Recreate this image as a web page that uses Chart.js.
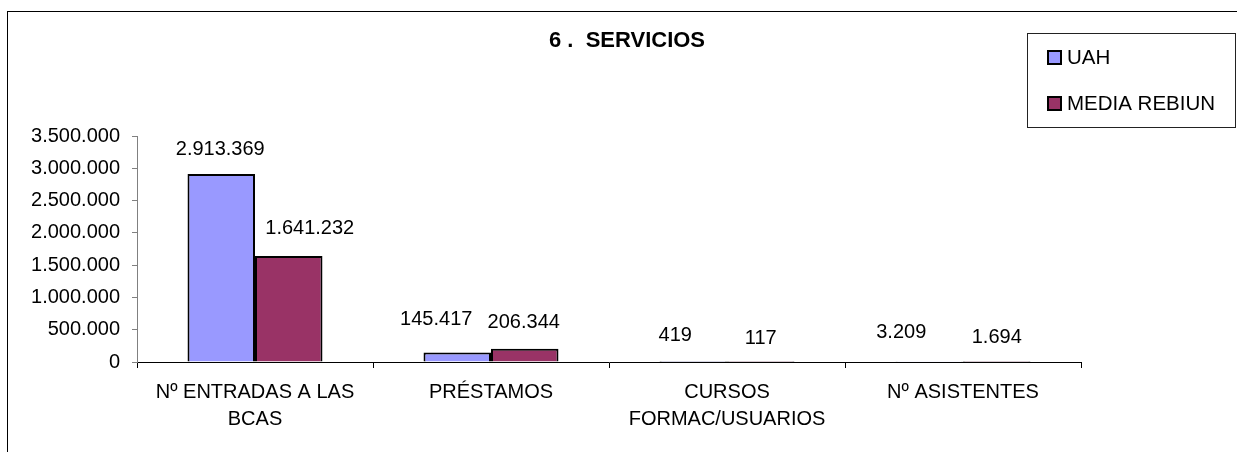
<!DOCTYPE html>
<html>
<head>
<meta charset="utf-8">
<script src="https://cdn.jsdelivr.net/npm/chart.js@4"></script>
<style>
html,body{margin:0;padding:0;background:#fff;}
#wrap{width:1237px;height:452px;position:relative;}
</style>
</head>
<body>
<div id="wrap"><canvas id="c" width="1237" height="452"></canvas></div>
<script>
const titleText = '6 .  SERVICIOS';
const categories = [['Nº ENTRADAS A LAS', 'BCAS'], 'PRÉSTAMOS', ['CURSOS', 'FORMAC/USUARIOS'], 'Nº ASISTENTES'];
const seriesNames = ['UAH', 'MEDIA REBIUN'];
const uahValues = [2913369, 145417, 419, 3209];
const rebiunValues = [1641232, 206344, 117, 1694];
const seriesColors = ['#9999FF', '#993366'];
const yMax = 3500000;
const yStep = 500000;

// label nudges (style only, px relative to bar top-center), per dataset
const labelNudgeX = [[-1, -21, -18, -28], [21, -1, 0, 0]];
const labelNudgeY = [[-24, -33, -26, -29], [-28, -26, -24, -24]];

const FONT = '"Liberation Sans", Arial, sans-serif';

function fmt(n) {
  return String(Math.round(n)).replace(/\B(?=(\d{3})+(?!\d))/g, '.');
}

const decorPlugin = {
  id: 'decor',
  afterDraw(chart) {
    const ctx = chart.ctx;
    ctx.save();
    // outer border
    ctx.strokeStyle = '#000';
    ctx.lineWidth = 1;
    ctx.strokeRect(7.5, 11.5, 1300, 500);
    // title
    ctx.fillStyle = '#000';
    ctx.font = 'bold 22px ' + FONT;
    ctx.textAlign = 'center';
    ctx.textBaseline = 'middle';
    ctx.fillText(titleText, 627, 41);
    // legend box
    ctx.strokeStyle = '#222';
    ctx.lineWidth = 1;
    ctx.strokeRect(1027.5, 33.5, 208, 94);
    ctx.font = '20.5px ' + FONT;
    ctx.textAlign = 'left';
    chart.data.datasets.forEach((ds, i) => {
      const y = 50 + i * 46;
      ctx.fillStyle = ds.backgroundColor;
      ctx.fillRect(1047, y, 15, 15);
      ctx.strokeStyle = '#000';
      ctx.lineWidth = 2;
      ctx.strokeRect(1048, y + 1, 13, 13);
      ctx.fillStyle = '#000';
      ctx.fillText(ds.label, 1067, y + 8);
    });
    // data labels
    ctx.font = '20px ' + FONT;
    ctx.textAlign = 'center';
    ctx.textBaseline = 'middle';
    ctx.fillStyle = '#000';
    chart.data.datasets.forEach((ds, i) => {
      const meta = chart.getDatasetMeta(i);
      meta.data.forEach((bar, j) => {
        ctx.fillText(fmt(ds.data[j]), bar.x + labelNudgeX[i][j], bar.y + labelNudgeY[i][j]);
      });
    });
    ctx.restore();
  }
};

new Chart(document.getElementById('c'), {
  type: 'bar',
  data: {
    labels: categories,
    datasets: [
      { label: seriesNames[0], data: uahValues, backgroundColor: seriesColors[0], borderColor: '#000', borderWidth: 2 },
      { label: seriesNames[1], data: rebiunValues, backgroundColor: seriesColors[1], borderColor: '#000', borderWidth: 2 }
    ]
  },
  options: {
    responsive: false,
    animation: false,
    events: [],
    layout: { padding: { top: 136, left: 0, right: 156, bottom: 0 } },
    datasets: { bar: { categoryPercentage: 0.572, barPercentage: 1.0 } },
    plugins: { legend: { display: false }, title: { display: false }, tooltip: { enabled: false } },
    scales: {
      x: {
        afterFit(s) { s.height = 90; },
        grid: { drawOnChartArea: false, drawTicks: true, tickLength: 6, color: '#000', offset: true },
        border: { color: '#000', width: 1 },
        ticks: { color: '#000', font: { family: FONT, size: 20, lineHeight: 1.35 }, padding: 11, maxRotation: 0, autoSkip: false }
      },
      y: {
        min: 0, max: yMax,
        afterFit(s) { s.width = 137; },
        grid: { drawOnChartArea: false, drawTicks: true, tickLength: 5, color: '#808080' },
        border: { color: '#808080', width: 1 },
        ticks: { stepSize: yStep, color: '#000', font: { family: FONT, size: 20 }, padding: 12, callback: v => fmt(v) }
      }
    }
  },
  plugins: [decorPlugin]
});
</script>
</body>
</html>
